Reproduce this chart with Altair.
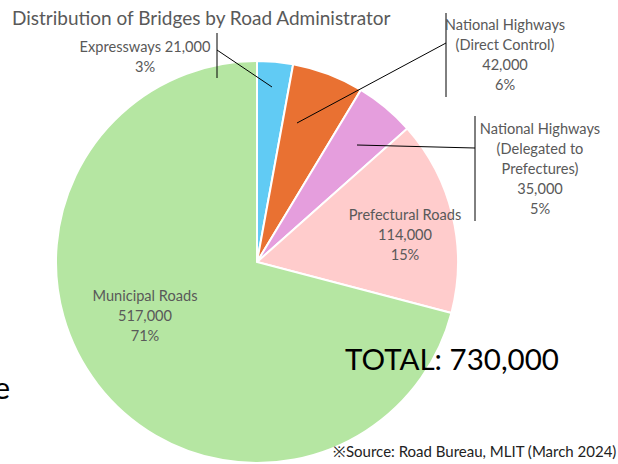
import altair as alt
import pandas as pd

# ---- data ----
categories = ["Expressways", "National Highways (Direct Control)",
              "National Highways (Delegated to Prefectures)",
              "Prefectural Roads", "Municipal Roads"]
bridges = [21000, 42000, 35000, 114000, 517000]
shares = ["3%", "6%", "5%", "15%", "71%"]
colors = ["#61CBF4", "#E97132", "#E59EDD", "#FFCCCC", "#B5E6A2"]
label_lines = [
    ["Expressways 21,000", "3%"],
    ["National Highways", "(Direct Control)", "42,000", "6%"],
    ["National Highways", "(Delegated to", "Prefectures)", "35,000", "5%"],
    ["Prefectural Roads", "114,000", "15%"],
    ["Municipal Roads", "517,000", "71%"],
]
title_text = "Distribution of Bridges by Road Administrator"
total_text = "TOTAL: 730,000"
source_text = "※Source: Road Bureau, MLIT (March 2024)"

# ---- layout (pixels) ----
W, H = 618, 464
CX, CY, R = 257, 262, 201
label_pos = [(145, 48), (505, 26), (540, 130), (405, 216), (145, 297)]
LINE_H = 20
leaders = [  # (x, y, x2, y2)
    (217, 33, 217, 78), (217, 50, 272, 87),
    (446, 13, 446, 97), (446, 43, 297, 123),
    (475, 116, 475, 221), (475, 148, 357, 145),
]
FONT = "Lato"

pie_df = pd.DataFrame({"cat": categories, "val": bridges,
                       "order": list(range(len(categories)))})

xs = alt.Scale(domain=[0, W], range=[0, W])
ys = alt.Scale(domain=[0, H], range=[0, H])

pie = alt.Chart(pie_df).mark_arc(outerRadius=R, stroke="white", strokeWidth=2).encode(
    theta=alt.Theta("val:Q", stack=True),
    order=alt.Order("order:Q"),
    color=alt.Color("cat:N", scale=alt.Scale(domain=categories, range=colors), legend=None),
    x=alt.value(CX), y=alt.value(CY),
)

rows = []
for (cx, cy), lines in zip(label_pos, label_lines):
    for i, t in enumerate(lines):
        rows.append({"px": cx, "py": cy + i * LINE_H, "t": t})
lab_df = pd.DataFrame(rows)
labels = alt.Chart(lab_df).mark_text(font=FONT, fontSize=14.6, color="#595959",
                                     baseline="middle", align="center").encode(
    x=alt.X("px:Q", scale=xs, axis=None), y=alt.Y("py:Q", scale=ys, axis=None),
    text="t:N")

lead_df = pd.DataFrame(leaders, columns=["x", "y", "x2", "y2"])
lead = alt.Chart(lead_df).mark_rule(color="black", strokeWidth=1).encode(
    x=alt.X("x:Q", scale=xs, axis=None), y=alt.Y("y:Q", scale=ys, axis=None),
    x2="x2:Q", y2="y2:Q")

misc_df = pd.DataFrame([
    {"px": 12, "py": 19, "t": title_text, "s": 19, "c": "#595959", "a": "left"},
    {"px": 345, "py": 361, "t": total_text, "s": 29.5, "c": "#000000", "a": "left"},
    {"px": 333, "py": 452, "t": source_text, "s": 15, "c": "#222222", "a": "left"},
])
misc_layers = []
for _, r in misc_df.iterrows():
    misc_layers.append(
        alt.Chart(pd.DataFrame([r])).mark_text(font=FONT, fontSize=float(r["s"]), color=r["c"],
                                               align=r["a"], baseline="middle").encode(
            x=alt.X("px:Q", scale=xs, axis=None), y=alt.Y("py:Q", scale=ys, axis=None),
            text="t:N"))
edge = alt.Chart(pd.DataFrame([{"px": 10, "py": 390, "t": "e"}])).mark_text(
    font=FONT, fontSize=31, color="black", align="right", baseline="middle").encode(
    x=alt.X("px:Q", scale=xs, axis=None), y=alt.Y("py:Q", scale=ys, axis=None), text="t:N")

chart = alt.layer(pie, lead, labels, *misc_layers, edge).properties(
    width=W, height=H, padding=0, autosize=alt.AutoSizeParams(type="none")
).configure_view(stroke=None).resolve_scale(color="independent")

chart.save("out.html", embed_options={"renderer": "svg", "actions": False})
